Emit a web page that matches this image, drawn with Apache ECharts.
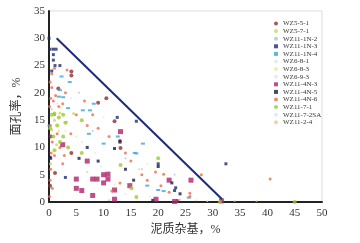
<!DOCTYPE html>
<html>
<head>
<meta charset="utf-8">
<script src="https://cdn.jsdelivr.net/npm/echarts@6/dist/echarts.min.js"></script>
<style>
  html, body { margin: 0; padding: 0; background: #fff; }
  #main { width: 360px; height: 243px; }
</style>
</head>
<body>
<div id="main"></div>
<script>
// wells in legend order
var wells = ['WZ5-5-1', 'WZ5-7-1', 'WZ11-1N-2', 'WZ11-1N-3', 'WZ11-1N-4', 'WZ6-8-1', 'WZ6-8-3',
  'WZ6-9-3', 'WZ11-4N-3', 'WZ11-4N-5', 'WZ11-4N-6', 'WZ11-7-1', 'WZ11-7-2SA', 'WZ11-2-4']

// [泥质杂基 %, 面孔率 %] per well
var wz551 = [[4.1, 23.9], [4.1, 23.2], [10.5, 19], [9, 18.2], [12, 14.8], [13, 11], [13.1, 9.9], [4.1, 9],
  [1.1, 5.3], [1.7, 20.8], [0.3, 12], [0.2, 3], [23.5, 0.2]]
var wz571 = [[1, 15], [2, 16.3], [3.2, 14.6], [0.5, 13.2], [1.4, 10.5], [0.3, 7], [4.5, 16.2]]
var wz111n2 = [[0.5, 17], [14, 8], [11, 0.3], [24, 0.4], [23, 5], [5.5, 20], [8, 13], [17, 6]]
var wz111n3 = [[0, 30], [0.2, 28], [0.8, 28], [1.3, 28], [0.8, 27], [0.8, 26], [1.1, 25], [2, 25], [0.5, 24],
  [16, 14.8], [32.4, 7], [23.2, 2.6], [23, 2.1], [20, 7], [0.3, 8], [3, 4.5], [12.5, 15.5]]
var wz111n4 = [[2.3, 23], [3.8, 22], [2, 20.5], [2.6, 19.2], [6.2, 16.8], [7.5, 16.8], [8.2, 18], [10, 10.7],
  [17.2, 10.7], [16, 8.9], [20, 2.2], [15.7, 9], [18, 3], [21, 2], [0.1, 14], [1.8, 19.3], [7.3, 12.5],
  [12.6, 12], [25.6, 0.8], [3.5, 17.2]]
var wz681 = [[1.5, 18], [6, 11], [9.5, 6.5], [18.5, 1]]
var wz683 = [[2.2, 17.2], [5, 12], [12, 3.2], [27, 0.3]]
var wz693 = [[3, 13], [8.5, 9], [14, 1.5]]
var wz114n3 = [[5, 4.2], [5, 2.5], [6, 2.1], [8, 4.2], [8.8, 4.2], [8, 1.2], [10, 5], [10.8, 5.1], [10.8, 4.2],
  [10, 3.5], [12, 2.2], [12, 0.5], [13.1, 12.9], [19.6, 0.5], [22, 4], [23, 0.1], [26, 4], [31.6, 0.2],
  [7, 7.5], [14.8, 3], [2.5, 10.5]]
var wz114n5 = [[7, 10], [9, 7.5], [12, 9.8], [13, 11.2], [14, 6], [15.5, 4], [20, 6.5], [22.5, 3.5],
  [19, 0.3], [24, 1.5], [0.2, 8.2], [5.5, 8]]
var wz114n6 = [[0.2, 22], [0.5, 21], [0.3, 19], [0.8, 18.5], [0.1, 17.5], [1, 16], [0.2, 14], [1.5, 12.5],
  [0.6, 11], [2, 10], [0.4, 9], [1, 8.5], [2.5, 7], [0.3, 6], [0.2, 4], [0.6, 2.5], [0.1, 1], [3, 20],
  [2.5, 18], [5, 16], [6.5, 18.5], [8, 16], [7, 14], [9, 13.5], [11, 12], [14, 9], [15, 7.5], [17, 5],
  [18, 4], [19.5, 5.5], [21, 5.1], [25.8, 1.6], [25.8, 1], [27.9, 5], [40.5, 4.2], [11.5, 2], [13, 3.5],
  [20.5, 3], [22, 1.8], [1, 24.5], [0.5, 23.5], [3.3, 24.2], [1.8, 17.5], [1.2, 19.5], [4, 12.5], [2.8, 8.5]]
var wz1171 = [[0.5, 16], [1, 16.2], [1.8, 15.5], [2.6, 16], [3, 14.5], [0.8, 12], [2.6, 12], [6, 15], [6, 9],
  [13.1, 6.8], [20, 8], [31.3, 0], [45, 0], [16, 0.9], [15.1, 2.5], [1.5, 14], [0.2, 13.5], [3.5, 10],
  [1, 9.5], [2, 11]]
var wz1172 = [[4, 19], [10, 15.5], [18, 7], [29, 0.2]]
var wz1124 = [[1.8, 13], [7, 5.5], [16.5, 6], [34, 0.2], [38, 0.2]]

// 分界线端点
var boundary = [[1.4, 30], [31.7, 0.5]]

var xTicks = [0, 50, 5]
var yTicks = [0, 35, 5]

var seriesData = [wz551, wz571, wz111n2, wz111n3, wz111n4, wz681, wz683, wz693, wz114n3, wz114n5, wz114n6, wz1171, wz1172, wz1124]
var colors = ['#8b2f2f', '#c6dc55', '#b4c2d4', '#1f2a72', '#3aa5d6', '#dfe7ef', '#efe99a', '#e6e6e6',
  '#b0236c', '#1c1c4a', '#f06a4a', '#9ccb2e', '#d4eaf7', '#f2c48c']
var symbols = ['circle', 'circle', 'circle', 'rect', 'rect', 'circle', 'circle', 'circle',
  'rect', 'rect', 'circle', 'circle', 'circle', 'circle']
var sizes = [4, 3, 2, 3, [4, 2], 2, 2, 2, 5, 3, 3, 4, 2, 2]

var chart = echarts.init(document.getElementById('main'))

var series = wells.map(function (name, i) {
  return {
    name: name,
    type: 'scatter',
    data: seriesData[i],
    symbol: symbols[i],
    symbolSize: sizes[i],
    itemStyle: { color: colors[i] }
  }
})
series.push({
  type: 'line',
  data: boundary,
  symbol: 'none',
  silent: true,
  lineStyle: { color: '#1f2a78', width: 2 }
})

var option = {
  animation: false,
  backgroundColor: '#ffffff',
  grid: {
    left: 49, right: 38, top: 11, bottom: 41,
    show: true, borderColor: '#dddddd', borderWidth: 1
  },
  legend: {
    data: wells,
    orient: 'vertical',
    left: 274,
    top: 20,
    itemWidth: 4,
    itemHeight: 4,
    itemGap: 0.6,
    padding: 0,
    textStyle: { fontFamily: 'Liberation Serif', fontSize: 7, lineHeight: 7, color: '#333' }
  },
  xAxis: {
    type: 'value',
    min: xTicks[0], max: xTicks[1], interval: xTicks[2],
    name: '泥质杂基，%',
    nameLocation: 'middle',
    nameGap: 22,
    nameTextStyle: { fontFamily: 'Liberation Serif, Noto Sans CJK SC', fontSize: 12, color: '#333' },
    axisLine: { lineStyle: { color: '#222', width: 2 } },
    axisTick: { show: false },
    splitLine: { show: false },
    axisLabel: { fontFamily: 'Liberation Serif', fontSize: 11, color: '#333', margin: 6 }
  },
  yAxis: {
    type: 'value',
    min: yTicks[0], max: yTicks[1], interval: yTicks[2],
    name: '面孔率，%',
    nameLocation: 'middle',
    nameGap: 26,
    nameTextStyle: { fontFamily: 'Liberation Serif, Noto Sans CJK SC', fontSize: 12, color: '#333' },
    axisLine: { lineStyle: { color: '#222', width: 2 } },
    axisTick: { show: false },
    splitLine: { show: false },
    axisLabel: { fontFamily: 'Liberation Serif', fontSize: 11, color: '#333', margin: 4 }
  },
  series: series
}
chart.setOption(option)
</script>
</body>
</html>
